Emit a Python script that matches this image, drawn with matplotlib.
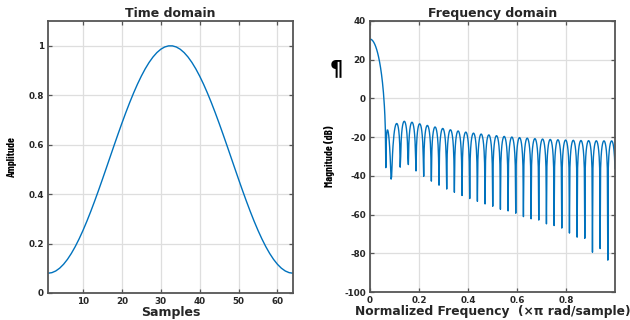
import numpy as np
import matplotlib
matplotlib.use("Agg")
import matplotlib.pyplot as plt
from matplotlib import font_manager

# ---- data (64-point window, symmetric) ----
samples = np.arange(1, 65)
half_window = [0.08000, 0.08229, 0.08912, 0.10044, 0.11612, 0.13602, 0.15993, 0.18762,
               0.21881, 0.25319, 0.29043, 0.33014, 0.37194, 0.41541, 0.46012, 0.50562,
               0.55147, 0.59720, 0.64236, 0.68650, 0.72920, 0.77000, 0.80852, 0.84438,
               0.87720, 0.90668, 0.93251, 0.95445, 0.97226, 0.98578, 0.99486, 0.99943]
amplitude = np.array(half_window + half_window[::-1])

left_xticks = [10, 20, 30, 40, 50, 60]
left_yticks = [0, 0.2, 0.4, 0.6, 0.8, 1]
left_yticklabels = ["0", "0.2", "0.4", "0.6", "0.8", "1"]
right_xticks = [0, 0.2, 0.4, 0.6, 0.8]
right_xticklabels = ["0", "0.2", "0.4", "0.6", "0.8"]
right_yticks = [-100, -80, -60, -40, -20, 0, 20, 40]
right_yticklabels = ["-100", "-80", "-60", "-40", "-20", "0", "20", "40"]

# frequency response of the window (derived from the values above)
nfft = 1024
spectrum = np.fft.fft(amplitude, nfft)[: nfft // 2]
freq = np.arange(nfft // 2) / (nfft // 2)
magnitude_db = 20 * np.log10(np.abs(spectrum) + 1e-12)

# ---- styling ----
bold_narrow = {f.name for f in font_manager.fontManager.ttflist
               if (isinstance(f.weight, int) and f.weight >= 600) or str(f.weight) in ("bold", "heavy", "black")}
narrow = ["DejaVu Sans"]
for cand in ["Barlow Condensed", "Asap Condensed", "Archivo Narrow",
             "Encode Sans Condensed", "Cabin Condensed"]:
    if cand in bold_narrow:
        narrow = [cand, "DejaVu Sans"]
        break

line_color = "#0072BD"
spine_color = "#555555"
grid_color = "#dedede"
text_color = "#262626"

fig = plt.figure(figsize=(6.3, 3.2), dpi=100)
ax1 = fig.add_axes([48 / 630, 27 / 320, 245 / 630, 272 / 320])
ax2 = fig.add_axes([370 / 630, 28 / 320, 245 / 630, 271 / 320])


def style(ax):
    ax.grid(True, color=grid_color, linewidth=0.9)
    ax.set_axisbelow(True)
    for s in ax.spines.values():
        s.set_color(spine_color)
        s.set_linewidth(1.3)
    ax.tick_params(direction="in", top=True, right=True, length=3,
                   width=0.9, color=spine_color, labelsize=6.3,
                   labelcolor=text_color, pad=3)
    for lab in ax.get_xticklabels() + ax.get_yticklabels():
        lab.set_fontweight("bold")


ax1.plot(samples, amplitude, color=line_color, linewidth=1.0)
ax1.set_xlim(1, 64)
ax1.set_ylim(0, 1.1)
ax1.set_xticks(left_xticks)
ax1.set_yticks(left_yticks)
ax1.set_yticklabels(left_yticklabels)
style(ax1)
ax1.set_title("Time domain", fontsize=9, fontweight="bold", color=text_color, pad=3)
ax1.set_xlabel("Samples", fontsize=9, fontweight="bold", color=text_color, labelpad=0)
ax1.set_ylabel("Amplitude", family=narrow, fontsize=8, fontweight="bold", color="black")
ax1.yaxis.set_label_coords(-0.128, 0.5)

ax2.plot(freq, magnitude_db, color=line_color, linewidth=1.0)
ax2.set_xlim(0, freq[-1])
ax2.set_ylim(-100, 40)
ax2.set_xticks(right_xticks)
ax2.set_xticklabels(right_xticklabels)
ax2.set_yticks(right_yticks)
ax2.set_yticklabels(right_yticklabels)
style(ax2)
ax2.set_title("Frequency domain", fontsize=9, fontweight="bold", color=text_color, pad=3)
ax2.set_xlabel("Normalized Frequency  (\u00d7\u03c0 rad/sample)", fontsize=8.8,
               fontweight="bold", color=text_color, labelpad=0)
ax2.set_ylabel("Magnitude (dB)", family=narrow, fontsize=8, fontweight="bold", color="black")
ax2.yaxis.set_label_coords(-0.143, 0.5)

fig.text(336 / 630, 1 - 69 / 320, "\u00b6", fontsize=15, fontweight="bold",
         color="black", ha="center", va="center")

fig.savefig("out.png", dpi=100)
